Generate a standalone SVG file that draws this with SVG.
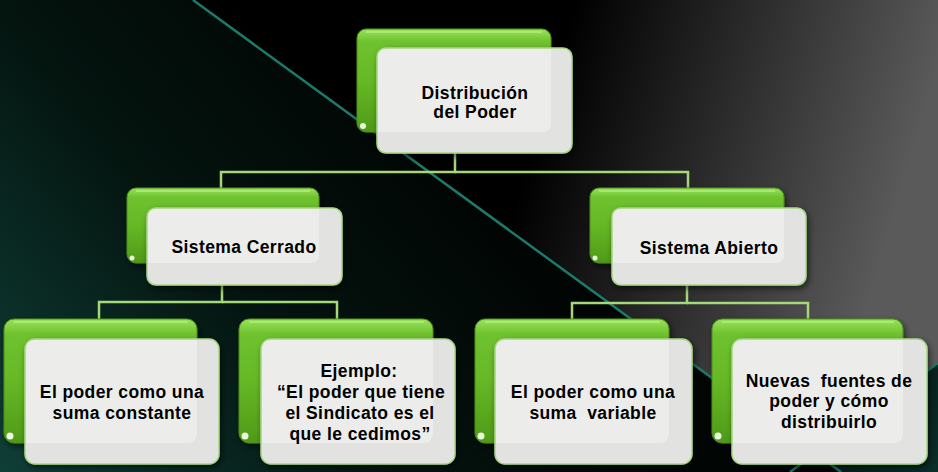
<svg xmlns="http://www.w3.org/2000/svg" width="938" height="472" viewBox="0 0 938 472">
<defs>
<linearGradient id="bgR" x1="0" y1="0" x2="1" y2="0.15">
<stop offset="0" stop-color="#000000"/>
<stop offset="0.6" stop-color="#000000"/>
<stop offset="1" stop-color="#5a5a5a"/>
</linearGradient>
<linearGradient id="bgT" gradientUnits="userSpaceOnUse" x1="0" y1="472" x2="420" y2="120">
<stop offset="0" stop-color="#0f3f37"/>
<stop offset="0.55" stop-color="#04140f"/>
<stop offset="1" stop-color="#010504"/>
</linearGradient>
<linearGradient id="bgT2" gradientUnits="userSpaceOnUse" x1="938" y1="472" x2="820" y2="400">
<stop offset="0" stop-color="#0b2f29"/>
<stop offset="1" stop-color="#04120f"/>
</linearGradient>
<linearGradient id="grn" x1="0" y1="0" x2="0" y2="1">
<stop offset="0" stop-color="#9ae35c"/>
<stop offset="0.12" stop-color="#6fc22f"/>
<stop offset="0.5" stop-color="#66b826"/>
<stop offset="1" stop-color="#4f9a18"/>
</linearGradient>
<linearGradient id="grnL" x1="0" y1="0" x2="1" y2="0">
<stop offset="0" stop-color="#4f9a18"/>
<stop offset="0.5" stop-color="#78cc3a"/>
<stop offset="1" stop-color="#4f9a18"/>
</linearGradient>
<filter id="sh" x="-10%" y="-10%" width="130%" height="130%">
<feDropShadow dx="2" dy="3" stdDeviation="3" flood-color="#000" flood-opacity="0.55"/>
</filter>
</defs>
<style>
.g{fill:url(#grn);stroke:#4a8c1c;stroke-width:1}
.hl{fill:none;stroke:#b5ef83;stroke-width:2;stroke-opacity:0.7}
.dot{fill:#eaf7dd}
.f{fill:#e2e3e0;stroke:#a6d884;stroke-width:1.5}
.fl{fill:#ecedea}
.t{font-family:"Liberation Sans",Arial,sans-serif;font-weight:bold;font-size:17.5px;fill:#000;text-anchor:middle;letter-spacing:0.4px;white-space:pre}
.c{fill:none;stroke:#a5d77b;stroke-width:2.5}
.dl{stroke:#1c7a6a;stroke-width:2.5;fill:none}
</style>
<rect width="938" height="472" fill="url(#bgR)"/>
<polygon points="0,0 193,0 841,472 0,472" fill="url(#bgT)"/>
<polygon points="815,453 938,363 938,472 841,472" fill="url(#bgT2)"/>
<line class="dl" x1="193" y1="0" x2="841" y2="472"/>
<line class="dl" x1="938" y1="363" x2="790" y2="472"/>

<g id="connectors">
<polyline class="c" points="455,132 455,172 221,172 221,188"/>
<polyline class="c" points="455,172 688,172 688,188"/>
<polyline class="c" points="222,263 222,302 99,302 99,319"/>
<polyline class="c" points="222,302 337,302 337,319"/>
<polyline class="c" points="687,263 687,303 572,303 572,319"/>
<polyline class="c" points="687,303 808,303 808,319"/>
</g>

<g id="n-root">
<rect class="g" x="357" y="29" width="194" height="103" rx="9" filter="url(#sh)"/>
<line class="hl" x1="366" y1="32" x2="542" y2="32"/>
<circle class="dot" cx="363" cy="126" r="3"/>
<rect class="f" x="377" y="48" width="195" height="105" rx="9" filter="url(#sh)"/>
<path class="fl" d="M386,49 H551 V123 Q551,132 542,132 H378 V57 Q378,49 386,49 Z"/>
<text class="t" x="475" y="99">Distribución</text>
<text class="t" x="475" y="118">del Poder</text>
</g>

<g id="n-cerrado">
<rect class="g" x="127" y="188" width="192" height="75" rx="9" filter="url(#sh)"/>
<line class="hl" x1="136" y1="191" x2="310" y2="191"/>
<circle class="dot" cx="132" cy="258" r="2.5"/>
<rect class="f" x="147" y="208" width="195" height="77" rx="9" filter="url(#sh)"/>
<path class="fl" d="M156,209 H319 V254 Q319,263 310,263 H148 V217 Q148,209 156,209 Z"/>
<text class="t" x="244" y="253">Sistema Cerrado</text>
</g>

<g id="n-abierto">
<rect class="g" x="590" y="188" width="194" height="75" rx="9" filter="url(#sh)"/>
<line class="hl" x1="599" y1="191" x2="775" y2="191"/>
<circle class="dot" cx="595" cy="258" r="2.5"/>
<rect class="f" x="612" y="208" width="194" height="77" rx="9" filter="url(#sh)"/>
<path class="fl" d="M621,209 H784 V254 Q784,263 775,263 H613 V217 Q613,209 621,209 Z"/>
<text class="t" x="709" y="254">Sistema Abierto</text>
</g>

<g id="n-constante">
<rect class="g" x="4" y="319" width="193" height="124" rx="10" filter="url(#sh)"/>
<line class="hl" x1="14" y1="322" x2="188" y2="322"/>
<circle class="dot" cx="10" cy="436" r="3.5"/>
<rect class="f" x="25" y="339" width="194" height="125" rx="10" filter="url(#sh)"/>
<path class="fl" d="M35,340 H197 V433 Q197,443 187,443 H26 V349 Q26,340 35,340 Z"/>
<text class="t" x="122" y="398">El poder como una</text>
<text class="t" x="122" y="419">suma constante</text>
</g>

<g id="n-ejemplo">
<rect class="g" x="239" y="319" width="194" height="124" rx="10" filter="url(#sh)"/>
<line class="hl" x1="249" y1="322" x2="424" y2="322"/>
<circle class="dot" cx="245" cy="436" r="3.5"/>
<rect class="f" x="261" y="339" width="194" height="125" rx="10" filter="url(#sh)"/>
<path class="fl" d="M271,340 H433 V433 Q433,443 423,443 H262 V349 Q262,340 271,340 Z"/>
<text class="t" x="359" y="377">Ejemplo:</text>
<text class="t" x="361" y="398">“El poder que tiene</text>
<text class="t" x="360" y="419">el Sindicato es el</text>
<text class="t" x="360" y="440">que le cedimos”</text>
</g>

<g id="n-variable">
<rect class="g" x="475" y="319" width="194" height="124" rx="10" filter="url(#sh)"/>
<line class="hl" x1="485" y1="322" x2="660" y2="322"/>
<circle class="dot" cx="481" cy="436" r="3.5"/>
<rect class="f" x="495" y="339" width="197" height="125" rx="10" filter="url(#sh)"/>
<path class="fl" d="M505,340 H669 V433 Q669,443 659,443 H496 V349 Q496,340 505,340 Z"/>
<text class="t" x="593" y="398">El poder como una</text>
<text class="t" x="593" y="419">suma  variable</text>
</g>

<g id="n-nuevas">
<rect class="g" x="712" y="319" width="191" height="124" rx="10" filter="url(#sh)"/>
<line class="hl" x1="722" y1="322" x2="894" y2="322"/>
<circle class="dot" cx="718" cy="436" r="3.5"/>
<rect class="f" x="732" y="339" width="195" height="125" rx="10" filter="url(#sh)"/>
<path class="fl" d="M742,340 H903 V433 Q903,443 893,443 H733 V349 Q733,340 742,340 Z"/>
<text class="t" x="829" y="387">Nuevas  fuentes de</text>
<text class="t" x="829" y="407">poder y cómo</text>
<text class="t" x="829" y="428">distribuirlo</text>
</g>
</svg>
